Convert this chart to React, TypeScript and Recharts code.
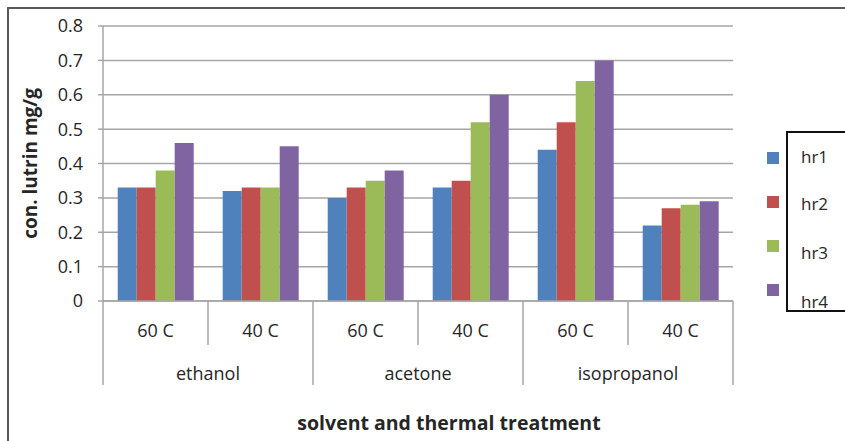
import { Bar, BarChart, CartesianGrid, Label, Legend, XAxis, YAxis } from "recharts";

const TEMPS = ["60 C", "40 C", "60 C", "40 C", "60 C", "40 C"];
const SOLVENTS = ["ethanol", "ethanol", "acetone", "acetone", "isopropanol", "isopropanol"];
const HR1 = [0.33, 0.32, 0.3, 0.33, 0.44, 0.22];
const HR2 = [0.33, 0.33, 0.33, 0.35, 0.52, 0.27];
const HR3 = [0.38, 0.33, 0.35, 0.52, 0.64, 0.28];
const HR4 = [0.46, 0.45, 0.38, 0.6, 0.7, 0.29];
const Y_TICKS = [0, 0.1, 0.2, 0.3, 0.4, 0.5, 0.6, 0.7, 0.8];

const SERIES = [
  { key: "hr1", color: "#4F81BD" },
  { key: "hr2", color: "#C0504D" },
  { key: "hr3", color: "#9BBB59" },
  { key: "hr4", color: "#8064A2" },
];

const data = TEMPS.map((temp, i) => ({
  temp,
  solvent: SOLVENTS[i],
  hr1: HR1[i],
  hr2: HR2[i],
  hr3: HR3[i],
  hr4: HR4[i],
}));

const W = 845;
const H = 441;
const MARGIN = { top: 26, right: 112, bottom: 8, left: 0 };
const Y_W = 103;
const BAND = (W - MARGIN.right - Y_W) / TEMPS.length;
const FONT = "'Open Sans', sans-serif";
const GRID = "#a6a6a6";
const TEXT = "#262626";

function CategoryTick(props: any) {
  const { x, y, index } = props;
  const left = x - BAND / 2;
  const right = x + BAND / 2;
  const isGroupStart = index % 2 === 0;
  const last = index === TEMPS.length - 1;
  return (
    <g>
      <text x={x} y={y + 36} textAnchor="middle" fontSize={18} fill={TEXT} fontFamily={FONT}>
        {TEMPS[index]}
      </text>
      <line x1={left} x2={left} y1={y} y2={isGroupStart ? y + 84 : y + 44} stroke={GRID} strokeWidth={1.5} />
      {last && <line x1={right} x2={right} y1={y} y2={y + 84} stroke={GRID} strokeWidth={1.5} />}
      {isGroupStart && (
        <text x={right} y={y + 79} textAnchor="middle" fontSize={18} fill={TEXT} fontFamily={FONT}>
          {SOLVENTS[index]}
        </text>
      )}
    </g>
  );
}

function renderLegend(props: any) {
  const payload = props.payload || [];
  const sq = [152, 196, 240, 284];
  const lb = [157, 204, 253, 302];
  return (
    <div style={{ position: "relative", width: 0, height: 0 }}>
      <div
        style={{
          position: "absolute",
          left: 786,
          top: 131,
          width: 80,
          height: 177,
          borderLeft: "2px solid #111",
          borderTop: "2px solid #111",
          borderBottom: "2px solid #111",
        }}
      />
      {payload.map((p: any, i: number) => (
        <div key={p.value}>
          <div
            style={{ position: "absolute", left: 767, top: sq[i], width: 12, height: 12, background: p.color }}
          />
          <div
            style={{
              position: "absolute",
              left: 801,
              top: lb[i] - 11,
              fontSize: 17,
              lineHeight: "22px",
              fontFamily: FONT,
              color: TEXT,
              whiteSpace: "nowrap",
            }}
          >
            {p.value}
          </div>
        </div>
      ))}
    </div>
  );
}

export default function App() {
  return (
    <div style={{ position: "absolute", left: 0, top: 0, width: W, height: H, overflow: "hidden", background: "#fff" }}>
      <div
        style={{
          position: "absolute",
          left: 7,
          top: 7,
          width: W,
          height: H,
          borderLeft: "2px solid #595959",
          borderTop: "2px solid #595959",
        }}
      />
      <BarChart
        width={W}
        height={H}
        data={data}
        margin={MARGIN}
        barCategoryGap="14%"
        barGap={0}
        style={{ position: "absolute", left: 0, top: 0 }}
      >
        <CartesianGrid vertical={false} stroke={GRID} strokeWidth={1.5} />
        <XAxis
          dataKey="temp"
          interval={0}
          height={H - MARGIN.top - MARGIN.bottom - 275}
          tickSize={0}
          tickMargin={0}
          tickLine={false}
          axisLine={{ stroke: GRID, strokeWidth: 1.5 }}
          tick={<CategoryTick />}
        >
          <Label
            value="solvent and thermal treatment"
            position="insideBottom"
            offset={3}
            dx={31}
            style={{ fontFamily: FONT, fontWeight: 700, fontSize: 19.5, fill: TEXT }}
          />
        </XAxis>
        <YAxis
          width={Y_W}
          domain={[0, 0.8]}
          ticks={Y_TICKS}
          tickSize={5}
          tickMargin={15}
          tickLine={{ stroke: GRID, strokeWidth: 1.5 }}
          axisLine={{ stroke: GRID, strokeWidth: 1.5 }}
          tick={{ fontSize: 18, fill: TEXT, fontFamily: FONT }}
          tickFormatter={(v: number) => (v === 0 ? "0" : String(v))}
        >
          <Label
            value="con. lutrin mg/g"
            angle={-90}
            position="center"
            dx={-21}
            style={{ fontFamily: FONT, fontWeight: 700, fontSize: 19, fill: TEXT, textAnchor: "middle" }}
          />
        </YAxis>
        <Legend
          content={renderLegend}
          layout="horizontal"
          verticalAlign="middle"
          align="center"
          wrapperStyle={{ left: 0, top: 0, width: 0, height: 0 }}
        />
        {SERIES.map((s) => (
          <Bar key={s.key} dataKey={s.key} fill={s.color} isAnimationActive={false} />
        ))}
      </BarChart>
    </div>
  );
}
